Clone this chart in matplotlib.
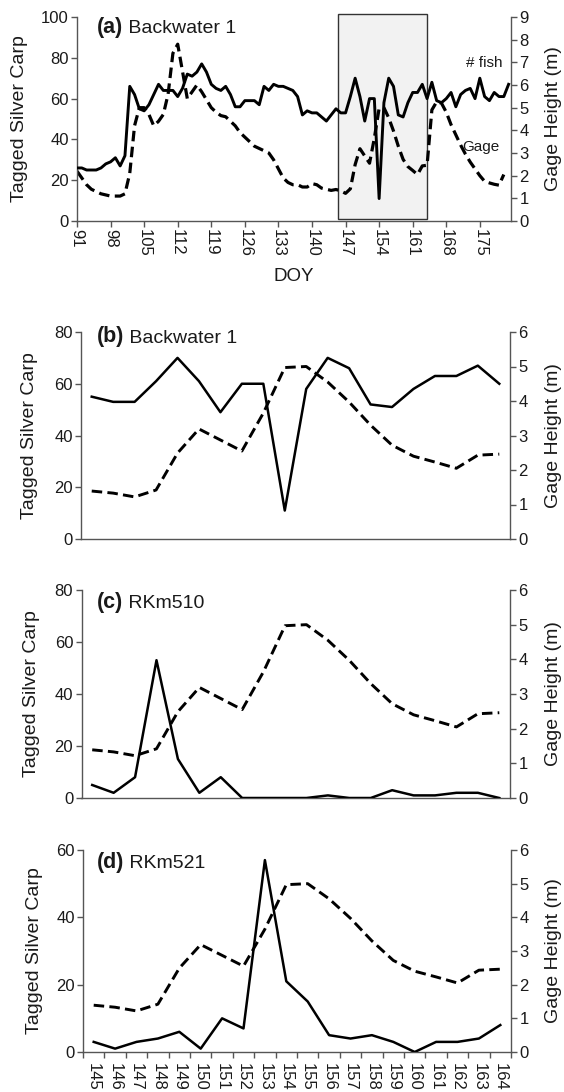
import numpy as np
import matplotlib
matplotlib.use('Agg')
import matplotlib.pyplot as plt
from matplotlib.patches import Rectangle

plt.rcParams['font.family'] = ['Liberation Sans', 'DejaVu Sans']

# ---- datos panel (a): dias 91-181 ----
dias_a = np.arange(91, 182)
pez_a = [26, 26, 25, 25, 25, 26, 28, 29, 31, 27, 32, 66, 62, 55, 54, 57, 62, 67, 64, 64,
         64, 61, 65, 72, 71, 73, 77, 73, 67, 65, 64, 66, 62, 56, 56, 59, 59, 59, 57, 66,
         64, 67, 66, 66, 65, 64, 61, 52, 54, 53, 53, 51, 49, 52,
         55, 53, 53, 61, 70, 61, 49, 60, 60, 11, 58, 70, 66, 52, 51, 58, 63, 63, 67, 60,
         68, 59, 58, 60, 63, 56, 62, 64, 65, 60, 70, 61, 59, 63, 61, 61, 67]
dias_gage_a = np.arange(91, 181)
gage_a = [2.2, 1.9, 1.6, 1.4, 1.3, 1.2, 1.15, 1.1, 1.1, 1.1, 1.2, 2.1, 4.2, 5.0, 5.0, 4.7,
          4.2, 4.4, 4.7, 5.6, 7.4, 7.8, 6.6, 5.4, 5.7, 6.0, 5.7, 5.35, 5.0, 4.8, 4.65, 4.6,
          4.4, 4.2, 3.9, 3.7, 3.5, 3.3, 3.2, 3.1, 3.0, 2.7, 2.3, 1.9, 1.7, 1.6, 1.6, 1.5,
          1.5, 1.65, 1.6, 1.45, 1.4, 1.35,
          1.39, 1.33, 1.22, 1.42, 2.49, 3.19, 2.87, 2.55, 3.65, 4.97, 5.0, 4.55, 3.97, 3.3,
          2.72, 2.4, 2.23, 2.05, 2.43, 2.46,
          4.9, 5.26, 5.2, 4.8, 4.25, 3.8, 3.35, 2.95, 2.6, 2.3, 2.0, 1.75, 1.68, 1.62, 1.58, 2.05]
ticks_a = np.arange(91, 176, 7)

# ---- datos paneles (b)-(d): dias 145-164 ----
dias = np.arange(145, 165)
gage = [1.39, 1.33, 1.22, 1.42, 2.49, 3.19, 2.87, 2.55, 3.65, 4.97, 5.0, 4.55, 3.97, 3.3,
        2.72, 2.4, 2.23, 2.05, 2.43, 2.46]
pez_b = [55, 53, 53, 61, 70, 61, 49, 60, 60, 11, 58, 70, 66, 52, 51, 58, 63, 63, 67, 60]
pez_c = [5, 2, 8, 53, 15, 2, 8, 0, 0, 0, 0, 1, 0, 0, 3, 1, 1, 2, 2, 0]
pez_d = [3, 1, 3, 4, 6, 1, 10, 7, 57, 21, 15, 5, 4, 5, 3, 0, 3, 3, 4, 8]

gris = '#555555'
texto = '#1a1a1a'

fig = plt.figure(figsize=(5.64, 10.92), dpi=100)


def caja(l, r, t, b):
    return [l / 564, 1 - b / 1092, (r - l) / 564, (b - t) / 1092]


def estilo(ax, ax2):
    ax.set_zorder(ax2.get_zorder() + 1)
    ax.patch.set_visible(False)
    for a in (ax, ax2):
        a.spines['top'].set_visible(False)
        for s in a.spines.values():
            s.set_color(gris)
            s.set_linewidth(1.0)
        a.tick_params(direction='out', length=4, width=1, color=gris,
                      labelsize=12, labelcolor=texto, pad=2)
    ax.spines['right'].set_visible(False)
    ax2.spines['left'].set_visible(False)
    ax2.spines['bottom'].set_visible(False)
    ax.set_ylabel('Tagged Silver Carp', fontsize=14, color=texto)
    ax2.set_ylabel('Gage Height (m)', fontsize=14, color=texto)


def titulo(ax, x, y, letra, nombre):
    t = ax.text(x, y, letra, transform=ax.transAxes, fontsize=15.5,
                fontweight='bold', va='center', color=texto)
    ax.annotate(' ' + nombre, xy=(1, 0.45), xycoords=t, va='center',
                fontsize=14, color=texto)


# ---- panel (a) ----
ax = fig.add_axes(caja(77, 511, 17, 221))
ax2 = ax.twinx()
estilo(ax, ax2)
ax2.add_patch(Rectangle((145.4, 0.01), 18.6, 1.005, transform=ax2.get_xaxis_transform(),
                        facecolor='#f2f2f2', edgecolor='#333333', lw=1.0,
                        clip_on=False, zorder=0))
ax2.plot(dias_gage_a, gage_a, color='black', lw=2.3, linestyle=(0, (3.3, 1.7)), zorder=2)
ax.plot(dias_a, pez_a, color='black', lw=2.1, zorder=3)
ax.set_xlim(91, 181.5)
ax.set_ylim(0, 100)
ax.set_yticks(np.arange(0, 101, 20))
ax2.set_ylim(0, 9)
ax2.set_yticks(np.arange(0, 10, 1))
ax.set_xticks(ticks_a)
ax.set_xticklabels([str(d) for d in ticks_a], rotation=-90)
ax.set_xlabel('DOY', fontsize=13.5, color=texto, labelpad=8)
ax.yaxis.set_label_coords(-0.113, 0.5)
ax2.yaxis.set_label_coords(1.078, 0.5)
titulo(ax, 0.046, 0.95, '(a)', 'Backwater 1')
ax.text(175.9, 77.5, '# fish', fontsize=11, ha='center', va='center', color=texto)
ax.text(175.2, 36.5, 'Gage', fontsize=11, ha='center', va='center', color=texto)

# ---- paneles (b), (c), (d) ----
paneles = [
    ('(b)', 'Backwater 1', pez_b, 80, caja(81, 510, 332, 539), 0.976, 0.037, -0.100, 1.081),
    ('(c)', 'RKm510', pez_c, 80, caja(81.5, 510, 590, 798), 0.94, 0.036, -0.0975, 1.081),
    ('(d)', 'RKm521', pez_d, 60, caja(83, 511, 850, 1052), 0.936, 0.033, -0.094, 1.079),
]
for letra, nombre, pez, ymax, pos, ty, tx, lx, rx in paneles:
    ax = fig.add_axes(pos)
    ax2 = ax.twinx()
    estilo(ax, ax2)
    ax2.plot(dias, gage, color='black', lw=2.1, linestyle=(0, (3.6, 1.8)), zorder=2)
    ax.plot(dias, pez, color='black', lw=1.8, zorder=3)
    ax.set_xlim(144.5, 164.5)
    ax.set_ylim(0, ymax)
    ax.set_yticks(np.arange(0, ymax + 1, 20))
    ax2.set_ylim(0, 6)
    ax2.set_yticks(np.arange(0, 7, 1))
    ax.yaxis.set_label_coords(lx, 0.5)
    ax2.yaxis.set_label_coords(rx, 0.5)
    titulo(ax, tx, ty, letra, nombre)
    if letra == '(d)':
        ax.set_xticks(dias)
        ax.set_xticklabels([str(d) for d in dias], rotation=-90)
        ax.set_xticks(np.arange(144.5, 165, 1), minor=True)
        ax.tick_params(axis='x', which='major', length=0, pad=8)
        ax.tick_params(axis='x', which='minor', direction='out', length=4,
                       width=1, color=gris)
    else:
        ax.set_xticks([])

fig.savefig('out.png', dpi=100)
